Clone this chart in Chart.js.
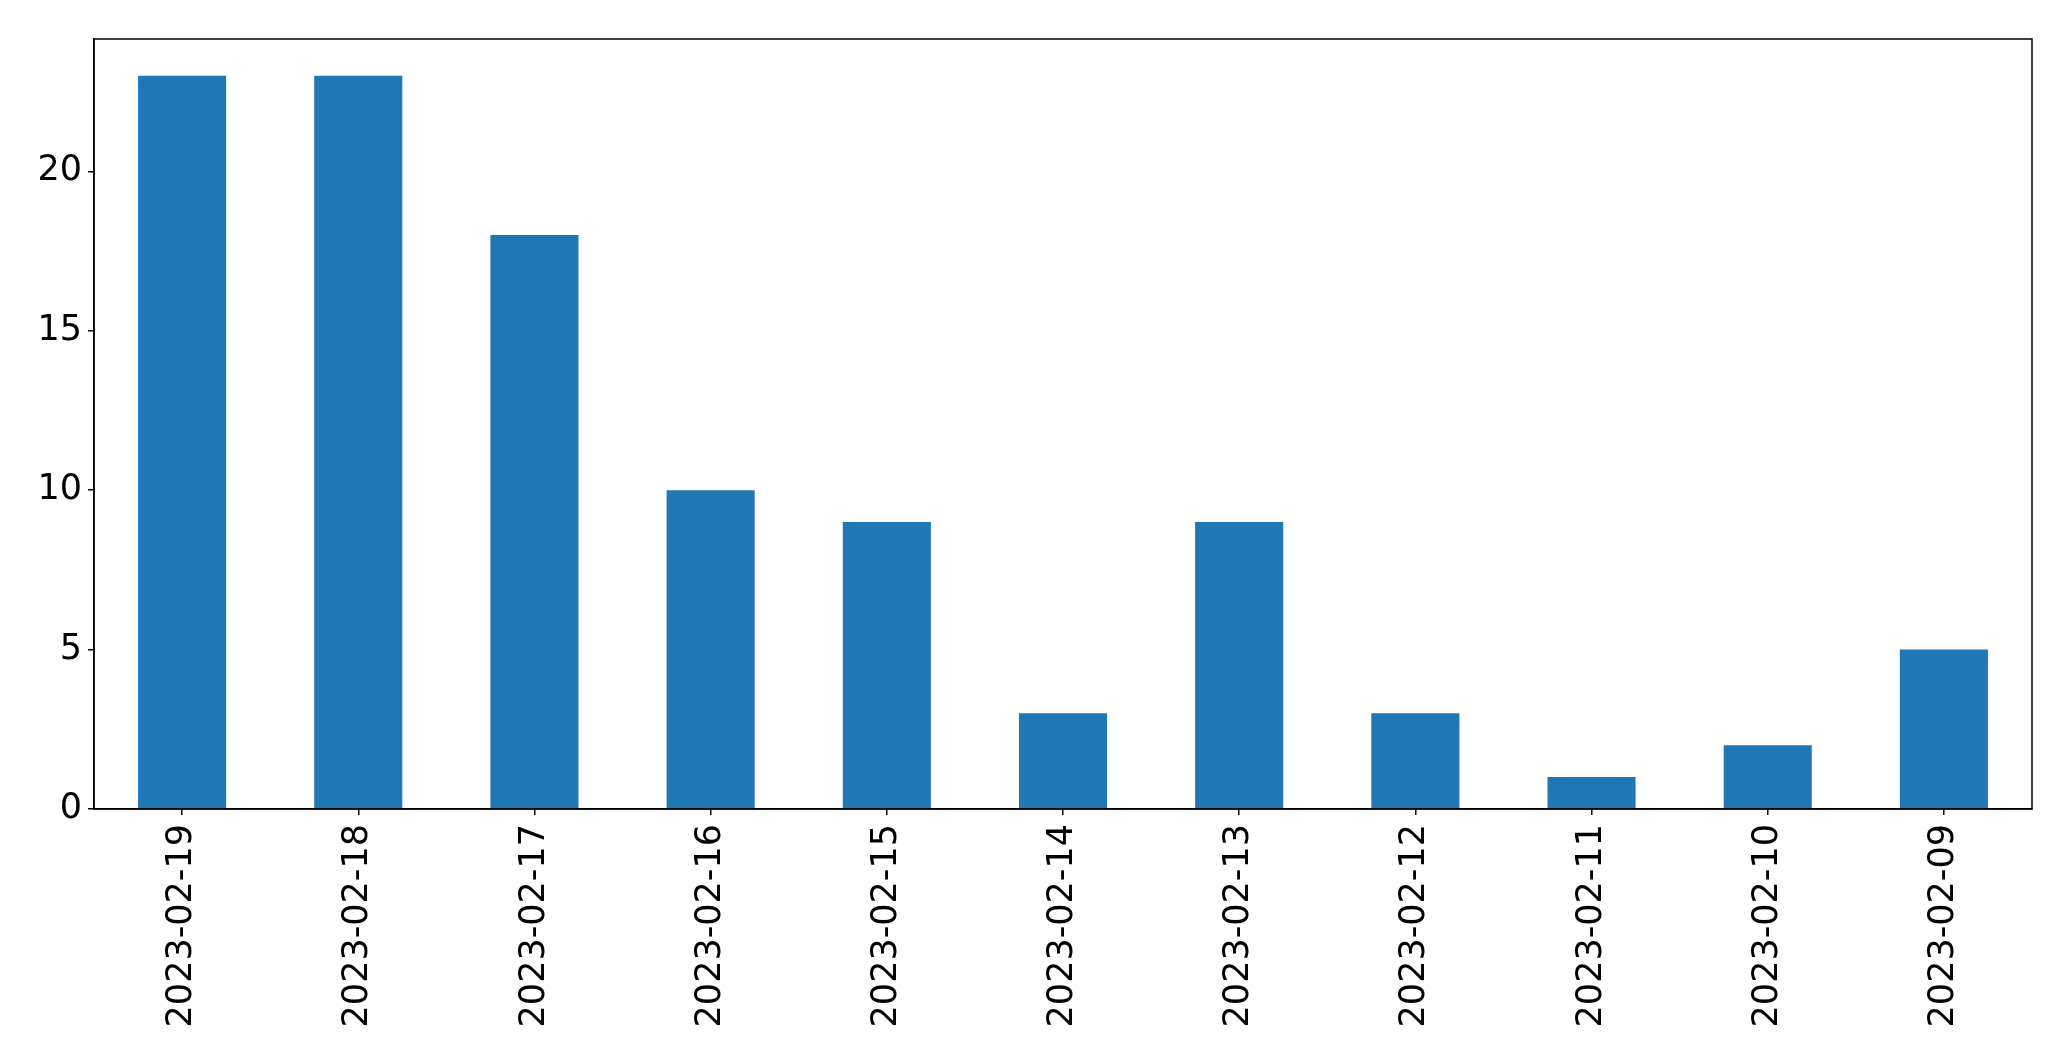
<!DOCTYPE html>
<html>
<head>
<meta charset="utf-8">
<script src="https://cdn.jsdelivr.net/npm/chart.js@4"></script>
<style>
  body { margin: 0; background: #fff; }
  #wrap { width: 2071px; height: 1061px; }
</style>
</head>
<body>
<div id="wrap"><canvas id="mycanvas" width="2071" height="1061"></canvas></div>
<script>
var dates = ['2023-02-19', '2023-02-18', '2023-02-17', '2023-02-16', '2023-02-15', '2023-02-14',
             '2023-02-13', '2023-02-12', '2023-02-11', '2023-02-10', '2023-02-09'];
var counts = [23, 23, 18, 10, 9, 3, 9, 3, 1, 2, 5];
var yTicks = [0, 5, 10, 15, 20];

// box around the plot area, like matplotlib's spines
var frame = {
  id: 'frame',
  afterDraw: function(chart) {
    var a = chart.chartArea, c = chart.ctx;
    c.save();
    c.strokeStyle = '#000';
    c.lineWidth = 1.5;
    c.strokeRect(a.left, a.top, a.right - a.left, a.bottom - a.top);
    c.restore();
  }
};

var ctx = document.getElementById('mycanvas');
new Chart(ctx, {
  type: 'bar',
  data: {
    labels: dates,
    datasets: [{
      data: counts,
      backgroundColor: '#1f77b4',
      borderWidth: 0,
      barPercentage: 0.5,
      categoryPercentage: 1.0
    }]
  },
  options: {
    responsive: false,
    animation: false,
    layout: { padding: { left: 0, top: 39, right: 39, bottom: 0 } },
    plugins: { legend: { display: false }, tooltip: { enabled: false } },
    scales: {
      x: {
        grid: { offset: false, drawOnChartArea: false, drawTicks: true, tickLength: 6, color: '#000', lineWidth: 1.5 },
        border: { display: true, color: '#000', width: 1.5 },
        ticks: {
          color: '#000', minRotation: 90, maxRotation: 90, padding: 9,
          font: { family: 'DejaVu Sans', size: 35 }
        },
        afterFit: function(s) { s.height = 252; }
      },
      y: {
        min: 0,
        max: 24.15,
        grid: { drawOnChartArea: false, drawTicks: true, tickLength: 6, color: '#000', lineWidth: 1.5 },
        border: { display: true, color: '#000', width: 1.5 },
        afterBuildTicks: function(s) { s.ticks = yTicks.map(function(v) { return { value: v }; }); },
        ticks: {
          color: '#000', padding: 6,
          font: { family: 'DejaVu Sans', size: 35 }
        },
        afterFit: function(s) { s.width = 94; }
      }
    }
  },
  plugins: [frame]
});
</script>
</body>
</html>
